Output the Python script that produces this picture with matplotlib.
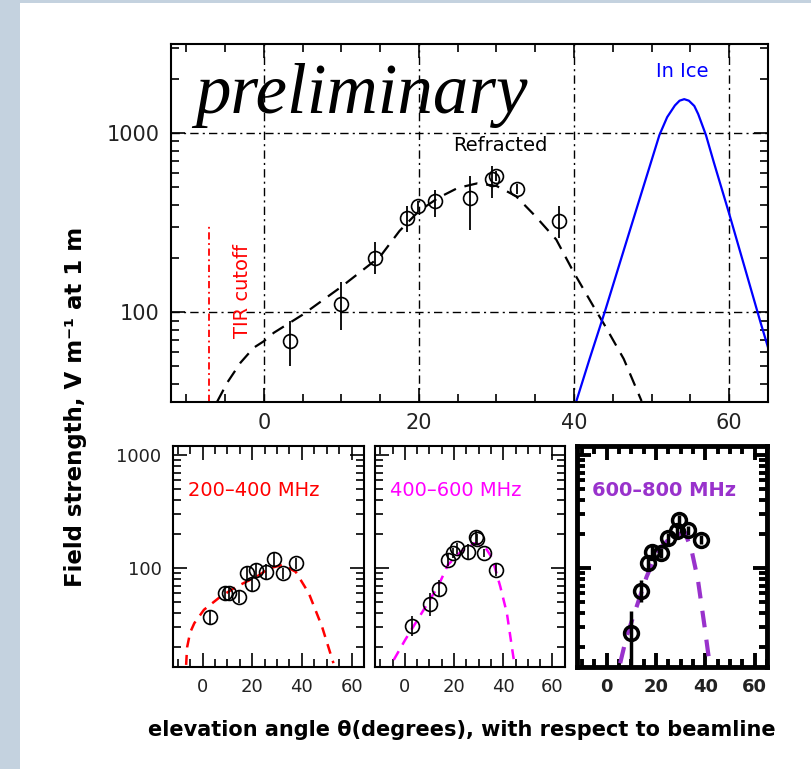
import matplotlib.pyplot as plt
from matplotlib.patches import Rectangle
from matplotlib.ticker import LogLocator, NullFormatter, FixedLocator, MultipleLocator
import numpy as np

# ---- top panel data (field strength, V/m at 1 m) ----
angle = [3.35, 10.0, 14.3, 18.4, 19.9, 22.1, 26.6, 29.4, 30.0, 32.6, 38.0]
field = [69, 112, 202, 338, 392, 418, 437, 553, 578, 490, 324]
field_lo = [50, 80, 163, 280, 365, 339, 290, 437, 540, 460, 261]
field_hi = [89, 147, 246, 391, 420, 485, 579, 657, 615, 520, 393]

refr_x = [-6.0, -4.7, -3.0, -1.3, 0, 1.3, 5, 10, 15, 17.5, 20, 22.5, 25, 27.5,
          30, 32.5, 35, 37.7, 40, 42.5, 44, 46.4, 48.7]
refr_y = [31.8, 40.6, 52.4, 63.5, 69, 77, 97, 139, 205, 285, 368, 436, 495, 525,
          508, 446, 345, 255, 166, 108, 84, 55, 32]

ice_x = [40.3, 42, 44, 46, 48, 50, 51, 52, 53, 53.6, 54.2, 54.8, 55.5, 56, 57, 58, 60,
         62, 64, 65.5]
ice_y = [32, 55, 102, 195, 372, 708, 977, 1230, 1430, 1520, 1550, 1520, 1420, 1280, 977,
         692, 355, 178, 89, 54]

tir_angle = -7.1

# ---- bottom panels: frequency bands ----
bands = ['200\u2013400 MHz', '400\u2013600 MHz', '600\u2013800 MHz']
band_colors = ['#ff0000', '#ff00ff', '#9932cc']

b1_x = [3.0, 9.2, 10.8, 14.5, 17.8, 19.8, 21.5, 25.7, 28.7, 32.3, 37.5]
b1_y = [37, 60, 60, 56, 90, 72, 97, 93, 120, 90, 111]
b1_lo = [32, 52, 53, 49, 78, 62, 84, 78, 104, 80, 99]
b1_hi = [43, 70, 68, 64, 104, 84, 112, 110, 138, 101, 124]
c1_x = [-6.6, -6.2, -5.0, -3.3, 0.6, 7.2, 13.8, 21.7, 27, 32.3, 37.5, 42.8, 48.1, 52.7]
c1_y = [14, 20, 27, 32.7, 43, 56, 69, 84, 100, 107, 93, 60, 30.5, 14.5]

b2_x = [3.1, 10.1, 14.1, 17.5, 19.5, 21.2, 25.5, 28.8, 29.5, 32.1, 37.2]
b2_y = [31, 48, 66, 118, 136, 150, 140, 190, 180, 137, 97]
b2_lo = [25, 38, 56, 104, 122, 134, 118, 165, 162, 126, 86]
b2_hi = [38, 60, 78, 133, 150, 166, 165, 218, 200, 148, 110]
c2_x = [-4.5, 0.1, 6.8, 13.5, 17.5, 22.8, 28.1, 32.1, 35.5, 38.8, 41.5, 44.1, 44.8]
c2_y = [15.5, 23.2, 40, 69, 107, 140, 166, 160, 123, 69, 40, 16.6, 13.5]

b3_x = [9.9, 13.8, 16.6, 18.2, 22.0, 24.9, 28.5, 29.5, 33.0, 38.1]
b3_y = [27, 63, 112, 140, 137, 185, 215, 265, 218, 178]
b3_lo = [14, 50, 95, 122, 122, 165, 190, 235, 198, 162]
b3_hi = [42, 78, 130, 158, 152, 205, 240, 295, 238, 195]
c3_x = [5.5, 8.1, 12.2, 16.2, 20.9, 26.3, 31.7, 34.4, 37, 39.7, 41.7]
c3_y = [14.5, 25, 46, 84, 145, 190, 208, 145, 79, 30.6, 14.5]

W, H = 812, 769
fig = plt.figure(figsize=(W / 100, H / 100), dpi=100, facecolor='#c4d2df')

# white slide area behind the plots
bg = fig.add_axes([0, 0, 1, 1], zorder=-10)
bg.axis('off')
bg.add_patch(Rectangle((20 / W, 0), 1, 1 - 3 / H, transform=bg.transAxes,
                       facecolor='white', edgecolor='none'))

grid_ls = (0, (6, 3, 1.5, 3))


def style_axes(ax, lw, labelsize, bold=False, ylabels=True):
    ax.set_yscale('log')
    ax.set_xlim(-12, 65)
    ax.xaxis.set_major_locator(FixedLocator([0, 20, 40, 60]))
    ax.xaxis.set_minor_locator(MultipleLocator(5))
    ax.yaxis.set_major_locator(FixedLocator([100, 1000]))
    ax.yaxis.set_minor_locator(LogLocator(base=10, subs=np.arange(2, 10)))
    ax.yaxis.set_minor_formatter(NullFormatter())
    ax.set_yticklabels(['100', '1000'])
    ax.tick_params(which='both', direction='in', top=True, right=True, width=lw * 0.8,
                   labelsize=labelsize, colors='black', labelcolor='#222222', pad=8)
    ax.tick_params(which='major', length=10)
    ax.tick_params(which='minor', length=6)
    if not ylabels:
        ax.tick_params(labelleft=False)
    for s in ax.spines.values():
        s.set_linewidth(lw)
    if bold:
        for lab in ax.get_xticklabels() + ax.get_yticklabels():
            lab.set_fontweight('bold')


# ---- top panel ----
ax = fig.add_axes([170.7 / W, 1 - 402 / H, (768 - 170.7) / W, (402 - 44) / H])
ax.set_ylim(31.6, 3150)
style_axes(ax, 1.5, 15)
for gx in [0, 20, 40, 60]:
    ax.axvline(gx, color='black', lw=1.0, linestyle=grid_ls, zorder=1)
for gy in [100, 1000]:
    ax.axhline(gy, color='black', lw=1.0, linestyle=grid_ls, zorder=1)

ax.plot(refr_x, refr_y, color='black', lw=1.6, linestyle=(0, (6, 4)))
ax.plot(ice_x, ice_y, color='#0000ff', lw=1.6)
ax.errorbar(angle, field,
            yerr=[np.array(field) - np.array(field_lo), np.array(field_hi) - np.array(field)],
            fmt='o', mfc='none', mec='black', ms=10, mew=1.2, ecolor='black', elinewidth=1.3,
            capsize=0)
ax.plot([tir_angle, tir_angle], [31.6, 310], color='#ff0000', lw=1.3,
        linestyle=(0, (4, 2, 1, 2)))
ax.text(-2.7, 131, 'TIR cutoff', color='#ff0000', rotation=90, ha='center', va='center',
        fontsize=14)
ax.text(30.5, 850, 'Refracted', color='black', ha='center', va='center', fontsize=14)
ax.text(54, 2200, 'In Ice', color='#0000ff', ha='center', va='center', fontsize=14)

fig.text(195 / W, 1 - 113 / H, 'preliminary', family='Liberation Serif', style='italic',
         fontsize=51, ha='left', va='baseline')

# ---- bottom panels ----
panel_lefts = [172.7, 375.3, 577.0]
panel_rights = [364.0, 564.7, 767.0]
pts = [(b1_x, b1_y, b1_lo, b1_hi, c1_x, c1_y),
       (b2_x, b2_y, b2_lo, b2_hi, c2_x, c2_y),
       (b3_x, b3_y, b3_lo, b3_hi, c3_x, c3_y)]
for i in range(3):
    l, r = panel_lefts[i], panel_rights[i]
    bx = fig.add_axes([l / W, 1 - 666.7 / H, (r - l) / W, (666.7 - 446) / H])
    bx.set_ylim(13.5, 1200)
    heavy = (i == 2)
    style_axes(bx, 3.5 if heavy else 1.5, 13, bold=heavy, ylabels=(i == 0))
    px, py, plo, phi, cx, cy = pts[i]
    bx.plot(cx, cy, color=band_colors[i], lw=3 if heavy else 1.8, linestyle=(0, (4, 3)))
    bx.errorbar(px, py,
                yerr=[np.array(py) - np.array(plo), np.array(phi) - np.array(py)],
                fmt='o', mfc='none', mec='black', ms=10, mew=2.5 if heavy else 1.2,
                ecolor='black', elinewidth=2.5 if heavy else 1.2, capsize=0)
    bx.text(0.08, 0.80, bands[i], transform=bx.transAxes, color=band_colors[i],
            fontsize=14, fontweight='bold' if heavy else 'normal', ha='left', va='center')

fig.text(76 / W, 1 - 407 / H, 'Field strength, V m\u207b\u00b9 at 1 m', rotation=90,
         fontsize=16.5, fontweight='bold', ha='center', va='center')
fig.text(462 / W, 1 - 730 / H, 'elevation angle \u03b8(degrees), with respect to beamline',
         fontsize=15, fontweight='bold', ha='center', va='center')

fig.savefig('out.png', dpi=100, facecolor=fig.get_facecolor())
